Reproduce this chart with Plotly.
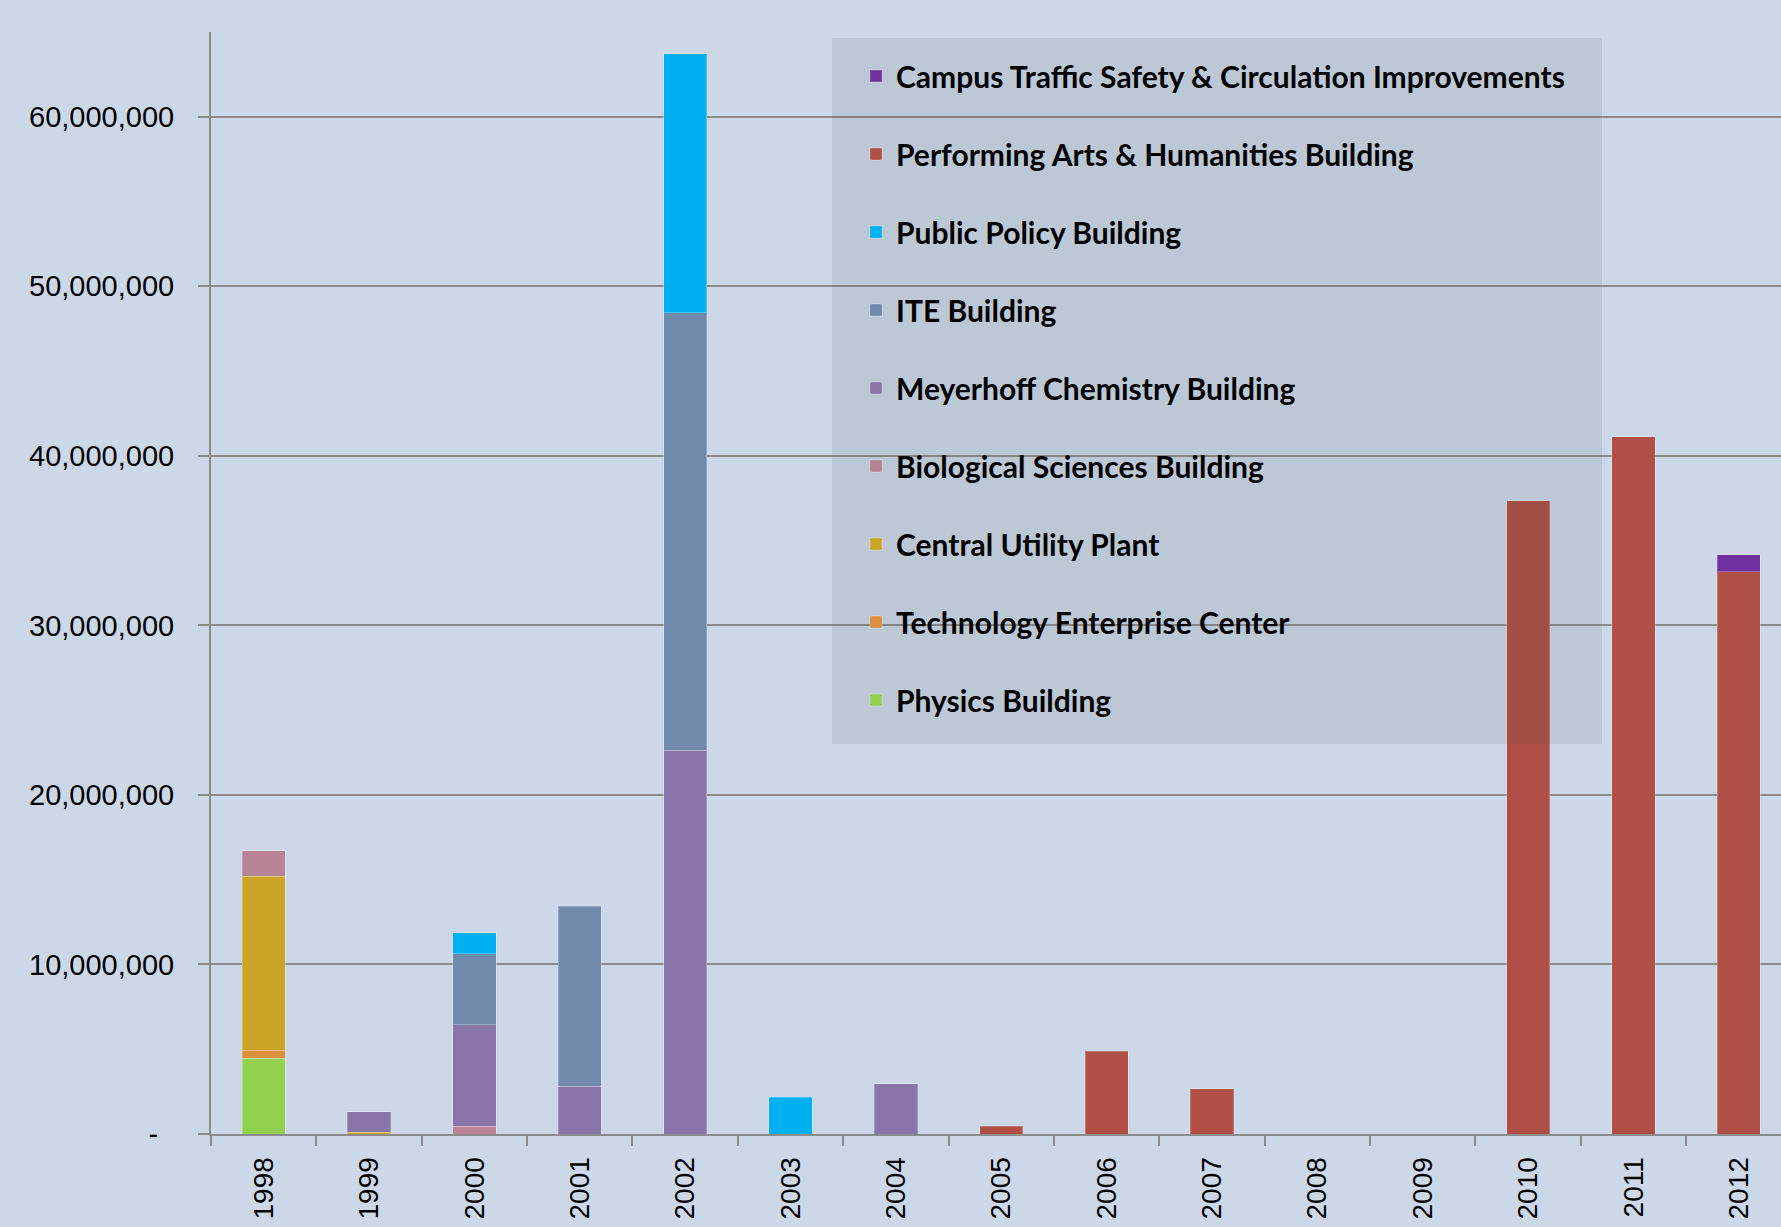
import plotly.graph_objects as go

years = [str(y) for y in range(1998, 2013)]

# values in millions of dollars, one entry per year 1998..2012
physics     = [4.47, 0, 0, 0, 0, 0, 0, 0, 0, 0, 0, 0, 0, 0, 0]
technology  = [0.46, 0, 0, 0, 0, 0, 0, 0, 0, 0, 0, 0, 0, 0, 0]
central     = [10.26, 0.11, 0, 0, 0, 0, 0, 0, 0, 0, 0, 0, 0, 0, 0]
biological  = [1.53, 0, 0.47, 0, 0, 0, 0, 0, 0, 0, 0, 0, 0, 0, 0]
meyerhoff   = [0, 1.20, 5.97, 2.81, 22.64, 0, 2.97, 0, 0, 0, 0, 0, 0, 0, 0]
ite         = [0, 0, 4.19, 10.61, 25.79, 0, 0, 0, 0, 0, 0, 0, 0, 0, 0]
publicpol   = [0, 0, 1.24, 0, 15.28, 2.16, 0, 0, 0, 0, 0, 0, 0, 0, 0]
performing  = [0, 0, 0, 0, 0, 0, 0, 0.45, 4.89, 2.68, 0, 0, 37.35, 41.13, 33.17]
campus      = [0, 0, 0, 0, 0, 0, 0, 0, 0, 0, 0, 0, 0, 0, 1.00]

series = [
    ("Physics Building", physics, "#92D050"),
    ("Technology Enterprise Center", technology, "#DA8F3C"),
    ("Central Utility Plant", central, "#CBA425"),
    ("Biological Sciences Building", biological, "#B98395"),
    ("Meyerhoff Chemistry Building", meyerhoff, "#8A75A9"),
    ("ITE Building", ite, "#708AAB"),
    ("Public Policy Building", publicpol, "#00B0F0"),
    ("Performing Arts & Humanities Building", performing, "#AF4F45"),
    ("Campus Traffic Safety & Circulation Improvements", campus, "#7030A0"),
]

ytickvals = [0, 10e6, 20e6, 30e6, 40e6, 50e6, 60e6]
yticktext = ["-\u00a0\u00a0", "10,000,000", "20,000,000", "30,000,000",
             "40,000,000", "50,000,000", "60,000,000"]

fig = go.Figure()
n = len(series)
for i, (name, vals, color) in enumerate(series):
    fig.add_trace(go.Bar(
        x=years,
        y=[v * 1e6 if v else None for v in vals],
        name=name,
        legendgroup=name,
        legendrank=n - i,
        marker=dict(color=color, line=dict(color="rgba(255,255,255,0.25)", width=1)),
    ))

BG = "#CCD8E8"
W, H = 1781, 1227
ML, MR, MT, MB = 211, 0, 32, 93
pw = W - ML - MR
ph = H - MT - MB

def px(xv):
    return (xv - ML) / pw

def py(yv):
    return (H - MB - yv) / ph

fig.update_layout(
    width=W, height=H,
    barmode="stack",
    bargap=0.59,
    paper_bgcolor=BG,
    plot_bgcolor=BG,
    margin=dict(l=ML, r=MR, t=MT, b=MB, pad=0),
    font=dict(family="Liberation Sans, Arial, sans-serif", size=28, color="#000000"),
    showlegend=True,
    legend=dict(
        traceorder="grouped",
        tracegroupgap=36,
        bgcolor="rgba(0,0,0,0)",
        borderwidth=0,
        x=px(856), xanchor="left",
        y=py(50), yanchor="top",
        font=dict(family="Lato, sans-serif", size=30, color="#000000", weight="bold"),
    ),
    shapes=[dict(
        type="rect", xref="paper", yref="paper",
        x0=px(832), x1=px(1602), y0=py(744), y1=py(38),
        fillcolor="rgba(70,75,70,0.11)", line=dict(width=0), layer="above",
    )],
)

fig.update_xaxes(
    type="category",
    range=[-0.5, 14.4],
    tickson="boundaries",
    ticks="outside", ticklen=10, tickwidth=2, tickcolor="#8C8C8C",
    showline=True, linecolor="#8C8C8C", linewidth=2,
    showgrid=False,
    tickangle=-90,
    ticklabelstandoff=10,
    tickfont=dict(family="Liberation Sans, Arial, sans-serif", size=28),
)
fig.update_yaxes(
    range=[0, 65e6],
    tickvals=ytickvals, ticktext=yticktext,
    ticks="outside", ticklen=11, tickwidth=2, tickcolor="#8C8C8C",
    showline=True, linecolor="#8C8C8C", linewidth=2,
    showgrid=True, gridcolor="#8C8C8C", gridwidth=2,
    zeroline=False,
    ticklabelstandoff=18,
    tickfont=dict(family="Liberation Sans, Arial, sans-serif", size=29),
)

fig.write_html(
    "out.html",
    config={"displayModeBar": False},
    post_script="document.body.style.margin='0';document.body.style.padding='0';document.body.style.overflow='hidden';",
)
